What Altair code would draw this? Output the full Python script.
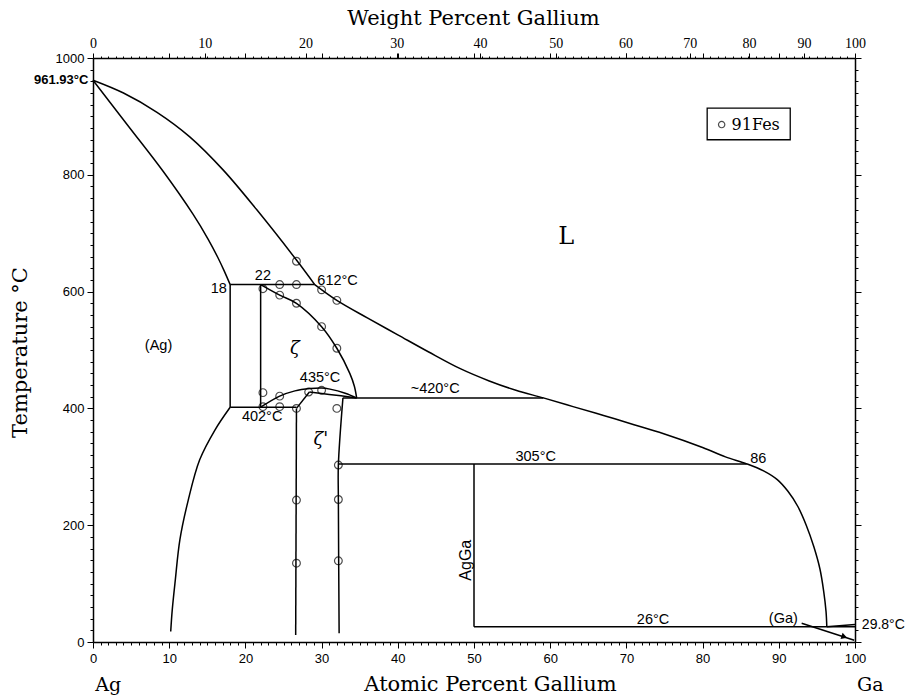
import altair as alt
import pandas as pd

# ---------------- data ----------------
AG_MASS, GA_MASS = 107.87, 69.72

liq_hi_at = [0, 4.0, 8.4, 12.7, 17.1, 21.5, 26.7, 29.1]
liq_hi_T = [961.93, 940, 907, 865, 808, 740, 654, 612]

liq_lo_at = [29.1, 32.0, 36.0, 40.0, 44.0, 48.2, 52.0, 55.5, 59.1, 63.0, 67.0, 71.0,
             74.8, 80.0, 83.0, 85.8, 88.0, 89.8, 91.2, 92.5, 93.6, 94.6, 95.4, 95.9,
             96.2, 96.3]
liq_lo_T = [612, 585, 555, 526, 497, 468, 447, 431, 418, 403, 388, 372,
            357, 333, 317, 305, 293, 278, 258, 232, 200, 163, 125, 86,
            52, 26]

sol_at = [0, 4.6, 9.2, 13.1, 15.1, 16.4, 17.2, 18.0]
sol_T = [961.93, 884, 806, 733, 690, 658, 636, 612]

solv_at = [18.0, 16.0, 14.0, 12.5, 11.4, 10.8, 10.4, 10.2]
solv_T = [402, 363, 312, 243, 175, 106, 55, 18]

zeta_r_at = [22.0, 24.5, 26.7, 30.0, 32.0, 33.7, 34.3, 34.6]
zeta_r_T = [612, 594, 580, 540, 503, 460, 438, 418]

zeta_arc_at = [22.0, 24.5, 26.5, 28.5, 30.0, 31.1, 33.1, 34.6]
zeta_arc_T = [402, 421, 430, 434, 435, 433, 426, 418]

lens_at = [28.4, 31.0, 34.6]
lens_T = [428, 424, 418]

zp_right_at = [32.8, 32.2, 32.2, 32.3]
zp_right_T = [418, 303, 244, 15]

straight_segments = {
    "peritectic612": ([18.0, 29.1], [612, 612]),
    "eutectoid402": ([18.0, 26.7], [402, 402]),
    "v18": ([18.0, 18.0], [612, 402]),
    "v22": ([22.0, 22.0], [612, 402]),
    "zp_tl": ([26.7, 28.4], [400, 428]),
    "zp_left": ([26.7, 26.6], [400, 12]),
    "h420": ([32.8, 59.1], [418, 418]),
    "h305": ([32.2, 85.8], [305, 305]),
    "AgGa": ([50.0, 50.0], [305, 26]),
    "h26": ([50.0, 100.0], [26, 26]),
    "ga_melt": ([96.3, 100.0], [26, 29.8]),
    "arrow": ([93.0, 99.9], [32, 3]),
}

pts_at = [26.7, 22.3, 24.5, 26.7, 30.0, 32.0, 24.5, 26.7, 30.0, 32.0,
          22.3, 22.3, 24.5, 24.5, 28.3, 30.0, 26.7, 32.0,
          26.7, 26.7, 32.2, 32.2, 32.2]
pts_T = [652, 605, 612, 612, 603, 585, 594, 580, 540, 503,
         427, 403, 421, 403, 428, 431, 400, 400,
         243, 135, 303, 244, 139]

ann_sans_text = ["612°C", "18", "22", "435°C", "402°C", "~420°C", "305°C", "86", "26°C", "(Ga)", "(Ag)"]
ann_sans_at = [32.1, 16.5, 22.3, 29.8, 22.2, 44.9, 58.1, 87.3, 73.5, 90.6, 8.6]
ann_sans_T = [618, 605, 626, 452, 385, 433, 317, 313, 38, 40, 507]

wt_labels = list(range(0, 101, 10))

# ---------------- tables ----------------
curve_rows = []
straight_rows = []


def add(target, name, xs, ys):
    for i, (x, y) in enumerate(zip(xs, ys)):
        target.append({"seg": name, "i": i, "at": x, "T": y})


add(curve_rows, "liquidus_hi", liq_hi_at, liq_hi_T)
add(curve_rows, "liquidus_lo", liq_lo_at, liq_lo_T)
add(curve_rows, "solidus", sol_at, sol_T)
add(curve_rows, "solvus", solv_at, solv_T)
add(curve_rows, "zeta_r", zeta_r_at, zeta_r_T)
add(curve_rows, "zeta_arc", zeta_arc_at, zeta_arc_T)
add(curve_rows, "lens", lens_at, lens_T)
add(curve_rows, "zp_right", zp_right_at, zp_right_T)
for k, (xv, yv) in straight_segments.items():
    add(straight_rows, k, xv, yv)
curves_df = pd.DataFrame(curve_rows)
straights_df = pd.DataFrame(straight_rows)

pts_df = pd.DataFrame({"at": pts_at, "T": pts_T})
ann_df = pd.DataFrame({"text": ann_sans_text, "at": ann_sans_at, "T": ann_sans_T})


def wt_to_at(w):
    return 100.0 * (w / GA_MASS) / ((w / GA_MASS) + ((100.0 - w) / AG_MASS))


wt_pos = [wt_to_at(w) for w in wt_labels]
top_values = sorted(set([round(v, 6) for v in wt_pos] + list(range(1, 100))))

xs = alt.Scale(domain=[0, 100], nice=False, zero=False)
ys = alt.Scale(domain=[0, 1000], nice=False)

TITLE_FONT = "DejaVu Serif"
TITLE_SIZE = 21

bottom_axis = alt.Axis(
    orient="bottom", values=list(range(0, 101)), grid=False,
    labelExpr="datum.value % 10 == 0 ? format(datum.value, 'd') : ''",
    tickSize={"condition": {"test": "datum.value % 10 == 0", "value": 6}, "value": 3},
    labelFont="Liberation Sans", labelFontSize=13, labelColor="black", labelPadding=4,
    labelOverlap=False, labelFlush=False, domainColor="black", domainWidth=1.5,
    tickColor="black", tickWidth=1,
    title="Atomic Percent Gallium", titleFont=TITLE_FONT, titleFontSize=TITLE_SIZE,
    titleFontWeight="normal", titleColor="black", titleX=397, titleY=42,
    titleBaseline="middle", titleAlign="center",
)
left_axis = alt.Axis(
    orient="left", values=list(range(0, 1001, 20)), grid=False,
    labelExpr="datum.value % 200 == 0 ? format(datum.value, 'd') : ''",
    tickSize={"condition": {"test": "datum.value % 200 == 0", "value": 6}, "value": 3},
    labelFont="Liberation Sans", labelFontSize=13, labelColor="black", labelPadding=3,
    labelOverlap=False, labelFlush=False, domainColor="black", domainWidth=1.5,
    tickColor="black", tickWidth=1,
    title="Temperature °C", titleFont=TITLE_FONT, titleFontSize=TITLE_SIZE,
    titleFontWeight="normal", titleColor="black", titleX=-73, titleY=294,
    titleAngle=270, titleBaseline="middle", titleAlign="center",
)
top_test = "abs(datum.value - round(datum.value)) > 0.000001 || datum.value == 0 || datum.value == 100"
top_axis = alt.Axis(
    orient="top", values=top_values, grid=False,
    labelExpr="(" + top_test + ") ? format(100*datum.value*69.72/(datum.value*69.72+(100-datum.value)*107.87), '.0f') : ''",
    tickSize={"condition": {"test": "(" + top_test + ") || datum.value % 10 == 0", "value": 5}, "value": 2},
    labelFont="Liberation Serif", labelFontSize=14, labelColor="black", labelPadding=3,
    labelOverlap=False, labelFlush=False, domainColor="black", domainWidth=1.5,
    tickColor="black", tickWidth=1,
    title="Weight Percent Gallium", titleFont=TITLE_FONT, titleFontSize=TITLE_SIZE,
    titleFontWeight="normal", titleColor="black", titleX=380, titleY=-40,
    titleBaseline="middle", titleAlign="center",
)
right_axis = alt.Axis(
    orient="right", values=list(range(0, 1001, 20)), grid=False, labels=False,
    tickSize={"condition": {"test": "datum.value % 200 == 0", "value": 6}, "value": 3},
    domainColor="black", domainWidth=1.5, tickColor="black", tickWidth=1, title=None,
)

X = alt.X("at:Q", scale=xs, axis=None)
Y = alt.Y("T:Q", scale=ys, axis=None)

curves = alt.Chart(curves_df).mark_line(
    color="black", strokeWidth=1.5, interpolate="catmull-rom"
).encode(
    x=alt.X("at:Q", scale=xs, axis=bottom_axis),
    y=alt.Y("T:Q", scale=ys, axis=left_axis),
    detail="seg:N",
    order="i:Q",
)

frame = alt.Chart(pts_df).mark_point(opacity=0).encode(
    x=alt.X("at:Q", scale=xs, axis=top_axis),
    y=alt.Y("T:Q", scale=ys, axis=right_axis),
)

straights = alt.Chart(straights_df).mark_line(color="black", strokeWidth=1.5).encode(
    x=X, y=Y, detail="seg:N", order="i:Q"
)

points = alt.Chart(pts_df).mark_point(
    shape="circle", filled=False, color="black", size=60, strokeWidth=1.2
).encode(x=X, y=Y)

ann = alt.Chart(ann_df).mark_text(
    font="Liberation Sans", fontSize=14.5, color="black", align="center", baseline="middle"
).encode(x=X, y=Y, text="text:N")

melt_df = pd.DataFrame({"text": ["961.93°C"], "at": [-0.6], "T": [962]})
melt = alt.Chart(melt_df).mark_text(
    font="Liberation Sans", fontSize=13, fontWeight="bold", color="black",
    align="right", baseline="middle"
).encode(x=X, y=Y, text="text:N")

ga_df = pd.DataFrame({"text": ["29.8°C"], "at": [100.9], "T": [29]})
ga_lab = alt.Chart(ga_df).mark_text(
    font="Liberation Sans", fontSize=14, color="black", align="left", baseline="middle"
).encode(x=X, y=Y, text="text:N")

serif_df = pd.DataFrame({"text": ["L", "Ag", "Ga"], "at": [62.1, 2.0, 102.0],
                         "T": [693, -74, -74], "size": [24, 19, 19]})
serif = alt.Chart(serif_df).mark_text(
    font="DejaVu Serif", color="black", align="center", baseline="middle"
).encode(x=X, y=Y, text="text:N", size=alt.Size("size:Q", scale=None, legend=None))

greek_df = pd.DataFrame({"text": ["ζ", "ζ'"], "at": [26.5, 29.9], "T": [502, 346]})
greek = alt.Chart(greek_df).mark_text(
    font="DejaVu Serif", fontStyle="italic", fontSize=18, color="black",
    align="center", baseline="middle"
).encode(x=X, y=Y, text="text:N")

agga_df = pd.DataFrame({"text": ["AgGa"], "at": [49.0], "T": [140]})
agga = alt.Chart(agga_df).mark_text(
    font="Liberation Sans", fontSize=16, color="black", angle=270,
    align="center", baseline="middle"
).encode(x=X, y=Y, text="text:N")

arrow_df = pd.DataFrame({"at": [98.6], "T": [9]})
arrowhead = alt.Chart(arrow_df).mark_point(
    shape="triangle-right", filled=True, color="black", size=45, angle=18, opacity=1
).encode(x=X, y=Y)

leg_box_df = pd.DataFrame({"at": [80.6], "at2": [91.5], "T": [860], "T2": [914]})
leg_box = alt.Chart(leg_box_df).mark_rect(
    fillOpacity=0, stroke="black", strokeWidth=1.3
).encode(x=X, x2="at2:Q", y=Y, y2="T2:Q")

leg_pt_df = pd.DataFrame({"at": [82.5], "T": [886]})
leg_pt = alt.Chart(leg_pt_df).mark_point(
    shape="circle", filled=False, color="black", size=40, strokeWidth=1.2
).encode(x=X, y=Y)

leg_txt_df = pd.DataFrame({"text": ["91Fes"], "at": [83.8], "T": [886]})
leg_txt = alt.Chart(leg_txt_df).mark_text(
    font="DejaVu Serif", fontSize=16, color="black", align="left", baseline="middle"
).encode(x=X, y=Y, text="text:N")

chart = alt.layer(
    curves, frame, straights, points, ann, melt, ga_lab, serif, greek, agga, arrowhead,
    leg_box, leg_pt, leg_txt
).resolve_axis(x="independent", y="independent").properties(
    width=762, height=584,
    autosize=alt.AutoSizeParams(type="none"),
    padding={"left": 93, "top": 58, "right": 52, "bottom": 54},
).configure_view(stroke=None).configure(background="white")

chart.save("out.html", embed_options={"renderer": "svg", "actions": False})
